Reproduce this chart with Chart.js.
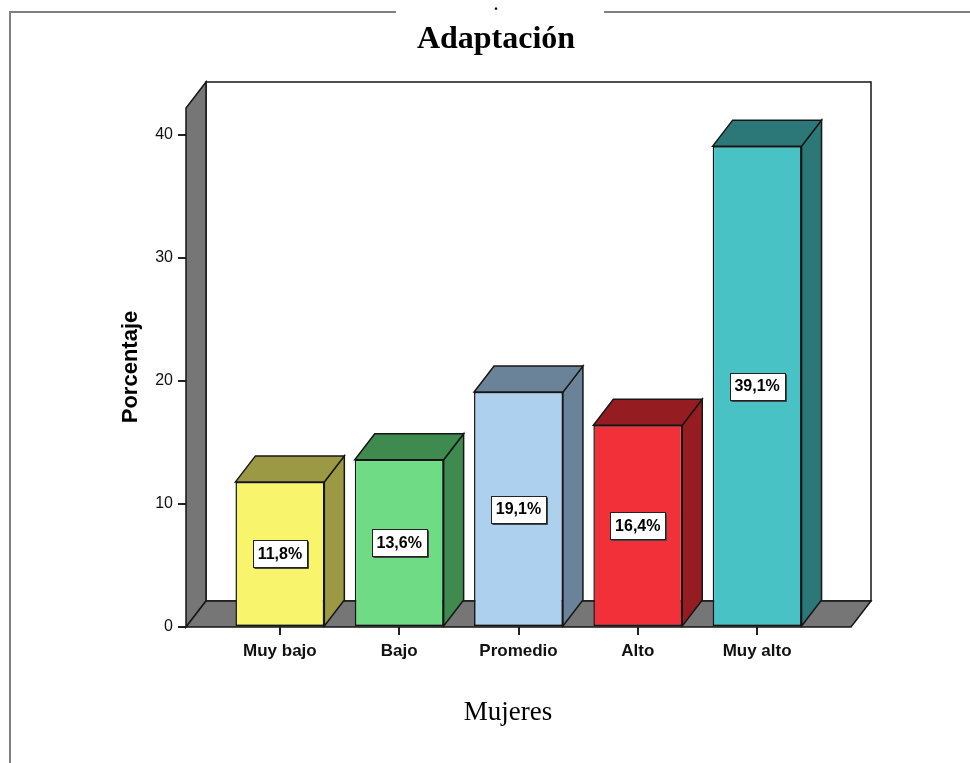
<!DOCTYPE html>
<html lang="es">
<head>
<meta charset="utf-8">
<title>Adaptación</title>
<script src="https://cdn.jsdelivr.net/npm/chart.js@4.4.1/dist/chart.umd.min.js"></script>
<style>
  html, body { margin: 0; padding: 0; background: #ffffff; }
  #wrap { width: 970px; height: 763px; position: relative; }
  canvas { display: block; }
</style>
</head>
<body>
<div id="wrap"><canvas id="chart" width="970" height="763"></canvas></div>
<script>
// Level categories and the share of women in each one (%)
const categories = ['Muy bajo', 'Bajo', 'Promedio', 'Alto', 'Muy alto'];
const percentages = [11.8, 13.6, 19.1, 16.4, 39.1];
const yTickValues = [0, 10, 20, 30, 40];

// Face colours: front face and the darker top/side faces
const frontColors = ['#F8F46C', '#6FDC85', '#ADD0EF', '#F1303A', '#48C2C5'];
const shadeColors = ['#9C9944', '#3E8A4F', '#6A8398', '#951D22', '#2C7777'];

// Depth offset of the 3D box (right and up)
const DEPTH_X = 20;
const DEPTH_Y = -26;
const EDGE = '#161616';
const WALL = '#767676';

function poly(ctx, pts, fill) {
  ctx.beginPath();
  ctx.moveTo(pts[0][0], pts[0][1]);
  for (let i = 1; i < pts.length; i++) ctx.lineTo(pts[i][0], pts[i][1]);
  ctx.closePath();
  ctx.fillStyle = fill;
  ctx.fill();
  ctx.stroke();
}

const box3d = {
  id: 'box3d',
  beforeDraw(chart) {
    const ctx = chart.ctx;
    ctx.save();
    ctx.fillStyle = '#ffffff';
    ctx.fillRect(0, 0, chart.width, chart.height);
    // page frame
    ctx.strokeStyle = '#808080';
    ctx.lineWidth = 2;
    ctx.beginPath();
    ctx.moveTo(10, 763); ctx.lineTo(10, 12); ctx.lineTo(396, 12);
    ctx.moveTo(604, 12); ctx.lineTo(970, 12);
    ctx.stroke();
    ctx.fillStyle = '#000000';
    ctx.textAlign = 'center';
    ctx.textBaseline = 'alphabetic';
    ctx.font = 'bold 16px "Liberation Serif"';
    ctx.fillText('.', 496, 10);
    // chart title
    ctx.font = 'bold 32px "Liberation Serif"';
    ctx.textBaseline = 'middle';
    ctx.fillText('Adaptación', 496, 40);
    ctx.restore();
  },
  beforeDatasetsDraw(chart) {
    const { ctx, chartArea: { left, right, top, bottom } } = chart;
    ctx.save();
    ctx.lineWidth = 1.5;
    ctx.strokeStyle = EDGE;
    ctx.lineJoin = 'miter';
    // back wall
    poly(ctx, [
      [left + DEPTH_X, top + DEPTH_Y], [right + DEPTH_X, top + DEPTH_Y],
      [right + DEPTH_X, bottom + DEPTH_Y], [left + DEPTH_X, bottom + DEPTH_Y]
    ], '#ffffff');
    // left wall
    poly(ctx, [
      [left, bottom], [left, top], [left + DEPTH_X, top + DEPTH_Y], [left + DEPTH_X, bottom + DEPTH_Y]
    ], WALL);
    // floor
    poly(ctx, [
      [left, bottom], [right, bottom], [right + DEPTH_X, bottom + DEPTH_Y], [left + DEPTH_X, bottom + DEPTH_Y]
    ], WALL);
    // top and side faces of each bar
    const meta = chart.getDatasetMeta(0);
    meta.data.forEach((bar, i) => {
      const { x, y, base, width } = bar.getProps(['x', 'y', 'base', 'width'], true);
      const l = x - width / 2, r = x + width / 2;
      poly(ctx, [[r, y], [r, base], [r + DEPTH_X, base + DEPTH_Y], [r + DEPTH_X, y + DEPTH_Y]], shadeColors[i]);
      poly(ctx, [[l, y], [r, y], [r + DEPTH_X, y + DEPTH_Y], [l + DEPTH_X, y + DEPTH_Y]], shadeColors[i]);
    });
    ctx.restore();
  },
  afterDatasetsDraw(chart) {
    const ctx = chart.ctx;
    const meta = chart.getDatasetMeta(0);
    ctx.save();
    ctx.font = 'bold 16px "Liberation Sans"';
    ctx.textAlign = 'center';
    ctx.textBaseline = 'middle';
    meta.data.forEach((bar, i) => {
      const { x, y, base } = bar.getProps(['x', 'y', 'base'], true);
      const text = percentages[i].toFixed(1).replace('.', ',') + '%';
      const w = Math.round(ctx.measureText(text).width + 10);
      const h = 27;
      const cy = (y + base) / 2;
      const bx = Math.round(x - w / 2) + 0.5, by = Math.round(cy - h / 2) + 0.5;
      ctx.fillStyle = '#ffffff';
      ctx.fillRect(bx, by, w, h);
      ctx.strokeStyle = '#222222';
      ctx.lineWidth = 1;
      ctx.strokeRect(bx, by, w, h);
      ctx.beginPath();
      ctx.moveTo(bx + w + 1, by + 1); ctx.lineTo(bx + w + 1, by + h + 1); ctx.lineTo(bx + 1, by + h + 1);
      ctx.strokeStyle = '#444444';
      ctx.stroke();
      ctx.fillStyle = '#000000';
      ctx.fillText(text, x, cy + 1);
    });
    ctx.restore();
  },
  afterDraw(chart) {
    const ctx = chart.ctx;
    ctx.save();
    ctx.fillStyle = '#000000';
    ctx.textAlign = 'center';
    ctx.textBaseline = 'middle';
    // y-axis title
    ctx.translate(131, 367);
    ctx.rotate(-Math.PI / 2);
    ctx.font = 'bold 22px "Liberation Sans"';
    ctx.fillText('Porcentaje', 0, 0);
    ctx.setTransform(1, 0, 0, 1, 0, 0);
    // x-axis title
    ctx.font = '27px "Liberation Serif"';
    ctx.fillText('Mujeres', 508, 713);
    ctx.restore();
  }
};

new Chart(document.getElementById('chart'), {
  type: 'bar',
  data: {
    datasets: [{
      data: percentages.map((v, i) => ({ x: i, y: v })),
      backgroundColor: frontColors,
      borderColor: EDGE,
      borderWidth: 1.5,
      borderSkipped: false,
      barPercentage: 0.745,
      categoryPercentage: 1
    }]
  },
  options: {
    responsive: false,
    animation: false,
    devicePixelRatio: 1,
    layout: { padding: { top: 108, right: 119, bottom: 0, left: 0 } },
    plugins: { legend: { display: false }, tooltip: { enabled: false }, title: { display: false } },
    scales: {
      x: {
        type: 'linear',
        min: -0.787,
        max: 4.787,
        offset: false,
        afterFit(scale) { scale.height = 136; },
        afterBuildTicks(scale) { scale.ticks = categories.map((_, i) => ({ value: i })); },
        grid: { display: true, offset: false, drawOnChartArea: false, drawTicks: true, tickLength: 8, lineWidth: 2, color: '#222222' },
        border: { display: false },
        ticks: {
          callback: (v) => categories[v],
          autoSkip: false,
          maxRotation: 0,
          padding: 6,
          color: '#111111',
          font: { family: '"Liberation Sans", Arial, sans-serif', size: 17, weight: 'bold' }
        }
      },
      y: {
        min: 0,
        max: 42.2,
        afterFit(scale) { scale.width = 186; },
        afterBuildTicks(scale) { scale.ticks = yTickValues.map(v => ({ value: v })); },
        grid: { display: true, drawOnChartArea: false, drawTicks: true, tickLength: 8, lineWidth: 2, color: '#222222' },
        border: { display: false },
        ticks: {
          padding: 5,
          color: '#111111',
          font: { family: '"Liberation Sans", Arial, sans-serif', size: 16 }
        }
      }
    }
  },
  plugins: [box3d]
});
</script>
</body>
</html>
